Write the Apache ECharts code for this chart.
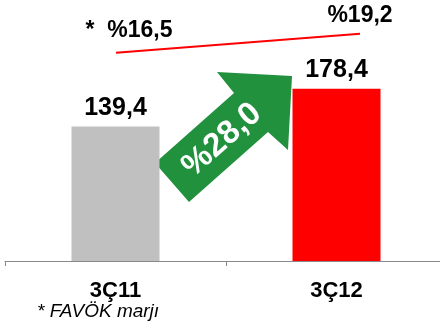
<!DOCTYPE html>
<html>
<head>
<meta charset="utf-8">
<script src="https://cdn.jsdelivr.net/npm/echarts@6/dist/echarts.min.js"></script>
<style>
  html, body { margin: 0; padding: 0; background: #fff; }
  #chart { width: 440px; height: 325px; }
</style>
</head>
<body>
<div id="chart"></div>
<script>
// FAVÖK (EBITDA) by quarter, plus margin line
const categories = ['3Ç11', '3Ç12'];
const favok = [139.4, 178.4];
const marjPct = [16.5, 19.2];
const growthPct = 28.0;
const barColors = ['#c0c0c0', '#ff0000'];

const fmt = v => v.toFixed(1).replace('.', ',');
const font = '"Liberation Sans", Arial, sans-serif';

const chart = echarts.init(document.getElementById('chart'));

const marjLabel = {
    show: true,
    position: 'top',
    color: '#000',
    fontSize: 23,
    fontWeight: 'bold',
    fontFamily: font
};

const option = {
    animation: false,
    grid: [
        { left: 5, width: 442, top: 68, bottom: 64, outerBoundsMode: 'none' },
        { left: 116, right: 80, top: 14, height: 70.4, outerBoundsMode: 'none' }
    ],
    xAxis: [{
        type: 'category',
        data: categories,
        gridIndex: 0,
        axisLine: { lineStyle: { color: '#898989', width: 1 } },
        axisTick: { show: true, length: 5, lineStyle: { color: '#898989' } },
        axisLabel: {
            margin: 19,
            color: '#000',
            fontSize: 22,
            fontWeight: 'bold',
            fontFamily: font
        }
    }, {
        type: 'value',
        gridIndex: 1,
        min: 0,
        max: 1,
        show: false
    }],
    yAxis: [{
        type: 'value',
        gridIndex: 0,
        min: 0,
        max: 200,
        show: false
    }, {
        type: 'value',
        gridIndex: 1,
        min: 12,
        max: 22,
        show: false
    }],
    series: [{
        type: 'bar',
        xAxisIndex: 0,
        yAxisIndex: 0,
        barWidth: 88,
        data: favok.map((v, i) => ({ value: v, itemStyle: { color: barColors[i] } })),
        label: {
            show: true,
            position: 'top',
            distance: 6,
            color: '#000',
            fontSize: 25,
            fontWeight: 'bold',
            fontFamily: font,
            formatter: p => fmt(p.value)
        }
    }, {
        type: 'line',
        xAxisIndex: 1,
        yAxisIndex: 1,
        symbol: 'circle',
        symbolSize: 0,
        showSymbol: true,
        lineStyle: { color: '#ff0000', width: 2 },
        data: [
            {
                value: [0, marjPct[0]],
                label: Object.assign({}, marjLabel, {
                    formatter: '*  %' + fmt(marjPct[0]),
                    offset: [13, -6]
                })
            },
            {
                value: [1, marjPct[1]],
                label: Object.assign({}, marjLabel, {
                    formatter: '%' + fmt(marjPct[1]),
                    offset: [0, -2]
                })
            }
        ]
    }],
    graphic: [{
        type: 'polygon',
        shape: {
            points: [[155, 163], [234, 93], [217, 72], [292, 76], [288, 150], [268, 132], [189, 202]]
        },
        style: { fill: '#21913d' }
    }, {
        type: 'text',
        x: 222,
        y: 140,
        rotation: 41.7 * Math.PI / 180,
        style: {
            text: '%' + fmt(growthPct),
            fill: '#fff',
            fontSize: 33,
            fontWeight: 'bold',
            fontFamily: font,
            align: 'center',
            verticalAlign: 'middle'
        }
    }, {
        type: 'text',
        left: 37,
        top: 302,
        style: {
            text: '* FAVÖK marjı',
            fill: '#000',
            fontSize: 19,
            fontStyle: 'italic',
            fontFamily: font
        }
    }]
};

chart.setOption(option);
</script>
</body>
</html>
